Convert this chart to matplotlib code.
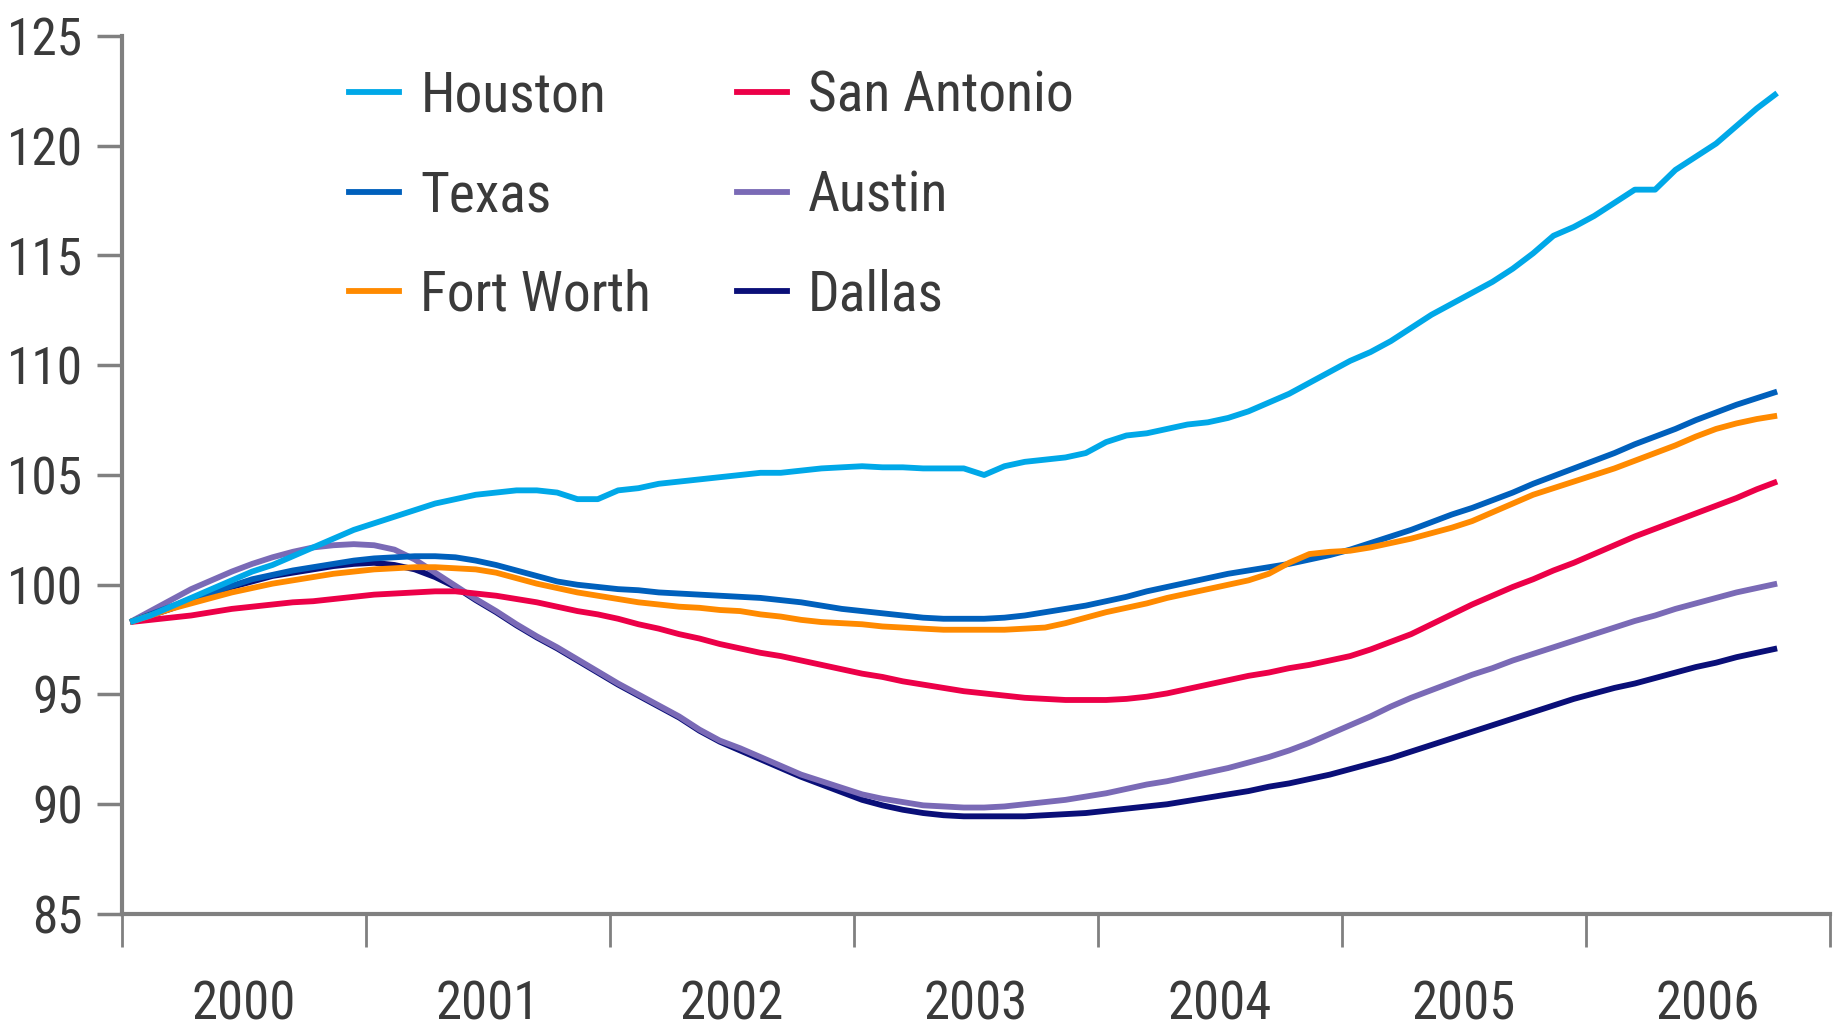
import numpy as np
import matplotlib.pyplot as plt
from matplotlib import font_manager as fm
from matplotlib.lines import Line2D

# monthly index values, Jan 2000 - Oct 2006
houston = [98.3, 98.6, 99.0, 99.4, 99.8, 100.2, 100.6, 100.9, 101.3, 101.7,
           102.1, 102.5, 102.8, 103.1, 103.4, 103.7, 103.9, 104.1, 104.2, 104.3,
           104.3, 104.2, 103.9, 103.9, 104.3, 104.4, 104.6, 104.7, 104.8, 104.9,
           105.0, 105.1, 105.1, 105.2, 105.3, 105.35, 105.4, 105.35, 105.35, 105.3,
           105.3, 105.3, 105.0, 105.4, 105.6, 105.7, 105.8, 106.0, 106.5, 106.8,
           106.9, 107.1, 107.3, 107.4, 107.6, 107.9, 108.3, 108.7, 109.2, 109.7,
           110.2, 110.6, 111.1, 111.7, 112.3, 112.8, 113.3, 113.8, 114.4, 115.1,
           115.9, 116.3, 116.8, 117.4, 118.0, 118.0, 118.9, 119.5, 120.1, 120.9,
           121.7, 122.4]
texas = [98.3, 98.65, 99.0, 99.35, 99.65, 99.95, 100.25, 100.45, 100.65, 100.8,
         100.95, 101.1, 101.2, 101.25, 101.3, 101.3, 101.25, 101.1, 100.9, 100.65,
         100.4, 100.15, 100.0, 99.9, 99.8, 99.75, 99.65, 99.6, 99.55, 99.5,
         99.45, 99.4, 99.3, 99.2, 99.05, 98.9, 98.8, 98.7, 98.6, 98.5,
         98.45, 98.45, 98.45, 98.5, 98.6, 98.75, 98.9, 99.05, 99.25, 99.45,
         99.7, 99.9, 100.1, 100.3, 100.5, 100.65, 100.8, 100.95, 101.15, 101.35,
         101.6, 101.9, 102.2, 102.5, 102.85, 103.2, 103.5, 103.85, 104.2, 104.6,
         104.95, 105.3, 105.65, 106.0, 106.4, 106.75, 107.1, 107.5, 107.85, 108.2,
         108.5, 108.8]
fort_worth = [98.3, 98.6, 98.9, 99.15, 99.4, 99.65, 99.85, 100.05, 100.2, 100.35,
              100.5, 100.6, 100.7, 100.75, 100.8, 100.8, 100.75, 100.7, 100.55, 100.3,
              100.05, 99.85, 99.65, 99.5, 99.35, 99.2, 99.1, 99.0, 98.95, 98.85,
              98.8, 98.65, 98.55, 98.4, 98.3, 98.25, 98.2, 98.1, 98.05, 98.0,
              97.95, 97.95, 97.95, 97.95, 98.0, 98.05, 98.25, 98.5, 98.75, 98.95,
              99.15, 99.4, 99.6, 99.8, 100.0, 100.2, 100.5, 101.0, 101.4, 101.5,
              101.55, 101.7, 101.9, 102.1, 102.35, 102.6, 102.9, 103.3, 103.7, 104.1,
              104.4, 104.7, 105.0, 105.3, 105.65, 106.0, 106.35, 106.75, 107.1, 107.35,
              107.55, 107.7]
san_antonio = [98.3, 98.4, 98.5, 98.6, 98.75, 98.9, 99.0, 99.1, 99.2, 99.25,
               99.35, 99.45, 99.55, 99.6, 99.65, 99.7, 99.7, 99.6, 99.5, 99.35,
               99.2, 99.0, 98.8, 98.65, 98.45, 98.2, 98.0, 97.75, 97.55, 97.3,
               97.1, 96.9, 96.75, 96.55, 96.35, 96.15, 95.95, 95.8, 95.6, 95.45,
               95.3, 95.15, 95.05, 94.95, 94.85, 94.8, 94.75, 94.75, 94.75, 94.8,
               94.9, 95.05, 95.25, 95.45, 95.65, 95.85, 96.0, 96.2, 96.35, 96.55,
               96.75, 97.05, 97.4, 97.75, 98.2, 98.65, 99.1, 99.5, 99.9, 100.25,
               100.65, 101.0, 101.4, 101.8, 102.2, 102.55, 102.9, 103.25, 103.6, 103.95,
               104.35, 104.7]
austin = [98.3, 98.8, 99.3, 99.8, 100.2, 100.6, 100.95, 101.25, 101.5, 101.7,
          101.8, 101.85, 101.8, 101.6, 101.15, 100.55, 99.95, 99.35, 98.8, 98.2,
          97.65, 97.15, 96.6, 96.05, 95.5, 95.0, 94.5, 94.0, 93.4, 92.9,
          92.55, 92.15, 91.75, 91.35, 91.05, 90.75, 90.45, 90.25, 90.1, 89.95,
          89.9, 89.85, 89.85, 89.9, 90.0, 90.1, 90.2, 90.35, 90.5, 90.7,
          90.9, 91.05, 91.25, 91.45, 91.65, 91.9, 92.15, 92.45, 92.8, 93.2,
          93.6, 94.0, 94.45, 94.85, 95.2, 95.55, 95.9, 96.2, 96.55, 96.85,
          97.15, 97.45, 97.75, 98.05, 98.35, 98.6, 98.9, 99.15, 99.4, 99.65,
          99.85, 100.05]
dallas = [98.3, 98.6, 98.9, 99.25, 99.6, 99.9, 100.15, 100.4, 100.55, 100.7,
          100.85, 100.95, 101.0, 100.9, 100.7, 100.35, 99.9, 99.3, 98.75, 98.15,
          97.6, 97.1, 96.55, 96.0, 95.45, 94.95, 94.45, 93.95, 93.35, 92.85,
          92.45, 92.05, 91.65, 91.25, 90.9, 90.55, 90.2, 89.95, 89.75, 89.6,
          89.5, 89.45, 89.45, 89.45, 89.45, 89.5, 89.55, 89.6, 89.7, 89.8,
          89.9, 90.0, 90.15, 90.3, 90.45, 90.6, 90.8, 90.95, 91.15, 91.35,
          91.6, 91.85, 92.1, 92.4, 92.7, 93.0, 93.3, 93.6, 93.9, 94.2,
          94.5, 94.8, 95.05, 95.3, 95.5, 95.75, 96.0, 96.25, 96.45, 96.7,
          96.9, 97.1]

years = list(range(2000, 2007))
y_ticks = list(range(85, 126, 5))

# pick a narrow sans font if one is installed
names = {f.name for f in fm.fontManager.ttflist}
if 'Liberation Sans Narrow' in names:
    font = dict(family='Liberation Sans Narrow')
elif 'Roboto Condensed' in names:
    font = dict(family='Roboto Condensed')
else:
    font = dict(family='DejaVu Sans', stretch='condensed')

text_col = '#3a3a3a'
axis_col = '#808080'
lw = 4.2

fig = plt.figure(figsize=(18.45, 10.28), dpi=100)
ax = fig.add_axes([122 / 1845, 1 - 914 / 1028, 1708 / 1845, 878 / 1028])

x = 2000 + (np.arange(len(houston)) + 0.4) / 12

series = [
    ('Dallas', dallas, '#0a0f78'),
    ('Austin', austin, '#7a6ab6'),
    ('San Antonio', san_antonio, '#ec0048'),
    ('Texas', texas, '#0060bc'),
    ('Fort Worth', fort_worth, '#ff8a00'),
    ('Houston', houston, '#00a8e8'),
]
lines = {}
for name, vals, col in series:
    lines[name], = ax.plot(x, vals, color=col, lw=lw, solid_capstyle='butt')

ax.set_xlim(2000, 2007)
ax.set_ylim(85, 125)
ax.set_yticks(y_ticks)
ax.set_yticklabels([str(v) for v in y_ticks], **font)
ax.set_xticks(range(2000, 2008))
ax.set_xticklabels([])
ax.set_xticks([y + 0.5 for y in years], minor=True)
ax.set_xticklabels([str(y) for y in years], minor=True, **font)

ax.tick_params(axis='x', which='major', length=24, width=2, color=axis_col)
ax.tick_params(axis='x', which='minor', length=0, pad=47, labelsize=38, labelcolor=text_col)
ax.tick_params(axis='y', length=18, width=2.5, color=axis_col, pad=10,
               labelsize=37, labelcolor=text_col)

for s in ['top', 'right']:
    ax.spines[s].set_visible(False)
for s in ['left', 'bottom']:
    ax.spines[s].set_color(axis_col)
    ax.spines[s].set_linewidth(3)

order = ['Houston', 'Texas', 'Fort Worth', 'San Antonio', 'Austin', 'Dallas']
handles = [Line2D([], [], color=lines[n].get_color(), lw=lw) for n in order]
leg = ax.legend(handles, order, ncol=2, loc='upper left', bbox_to_anchor=(0.133, 0.962),
                frameon=False, prop=dict(size=40, **font), handlelength=0.9,
                handletextpad=0.38, columnspacing=1.54, labelspacing=0.84,
                borderpad=0, borderaxespad=0)
for t in leg.get_texts():
    t.set_color(text_col)

fig.savefig('out.png', dpi=100, facecolor='white')
